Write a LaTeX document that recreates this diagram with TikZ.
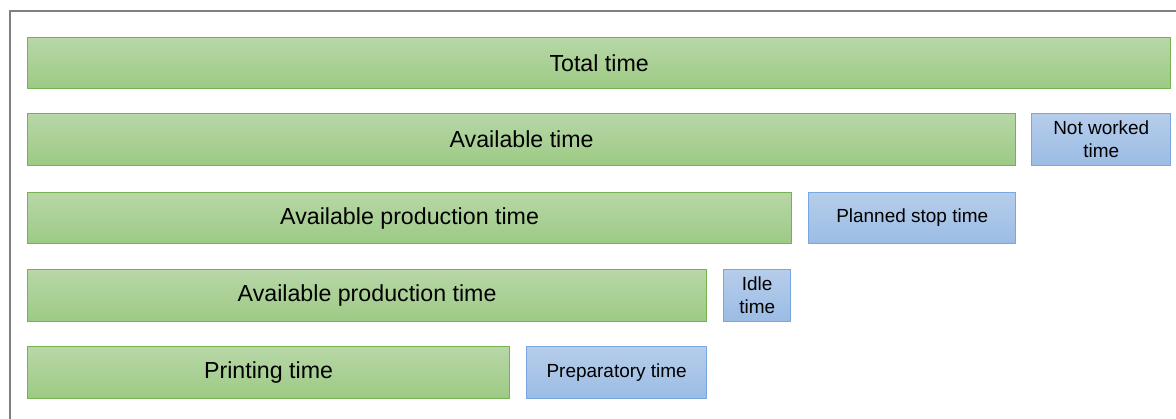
\documentclass[tikz,border=0pt]{standalone}
\usepackage{fontspec}
\setmainfont{Liberation Sans}
\usepackage{tikz}
\usetikzlibrary{calc}
\usepackage{xcolor}
\definecolor{gtop}{RGB}{184,215,167}
\definecolor{gbot}{RGB}{156,202,132}
\definecolor{gline}{RGB}{118,178,80}
\definecolor{btop}{RGB}{182,205,235}
\definecolor{bbot}{RGB}{155,188,228}
\definecolor{bline}{RGB}{120,166,222}
\newcommand{\px}{0.02}
\newcommand{\timebar}[7]{\node[#1, anchor=north west, minimum width={(#4-#3)*\px*1cm}, minimum height={(#6-#5)*\px*1cm}] (#2) at ({#3*\px},{-#5*\px}) {#7};}

\begin{document}
\begin{tikzpicture}[
		greenbar/.style={draw=gline, line width=0.6pt, top color=gtop, bottom color=gbot, inner sep=0pt, font=\fontsize{13.2}{15}\selectfont},
		bluebar/.style={draw=bline, line width=0.6pt, top color=btop, bottom color=bbot, inner sep=0pt, align=center, font=\fontsize{10.8}{13}\selectfont}
	]

	\useasboundingbox (0,0) rectangle (23.52,-8.38);
	\draw[gray, line width=1.1pt] (0.2,-8.38) -- (0.2,-0.22) -- (23.52,-0.22);

	\timebar{greenbar}{total}{27}{1170}{37}{88}{Total time}

	\timebar{greenbar}{avail}{27}{1015}{113}{165}{Available time}
	\timebar{bluebar}{notworked}{1031}{1170}{113}{165}{Not worked\\time}

	\timebar{greenbar}{prod}{27}{791}{192}{243}{Available production time}
	\timebar{bluebar}{planned}{808}{1015}{192}{243}{Planned stop time}

	\timebar{greenbar}{prodb}{27}{706}{269}{321}{Available production time}
	\timebar{bluebar}{idle}{723}{790}{269}{321}{Idle\\time}

	\timebar{greenbar}{printing}{27}{509}{346}{398}{Printing time}
	\timebar{bluebar}{prep}{526}{706}{346}{398}{Preparatory time}
\end{tikzpicture}
\end{document}
